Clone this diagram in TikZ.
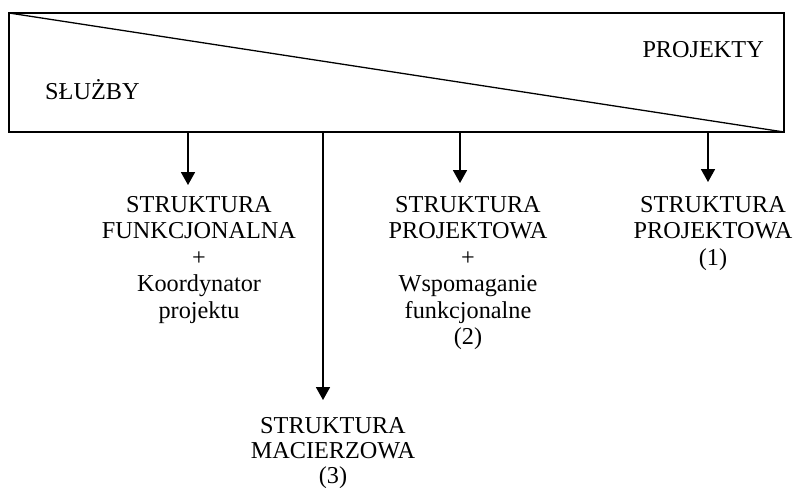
\documentclass[tikz,border=0pt]{standalone}
\usepackage{fontspec}
\setmainfont{Liberation Serif}
\usetikzlibrary{arrows.meta,positioning,calc}
\tikzset{
    ramka/.style={
        rectangle,
        draw,
        line width=1.1pt,
        inner sep=0pt,
        outer sep=0pt,
        anchor=north west
    },
    tekst/.style={inner sep=0pt, font=\fontsize{20.7}{22.6}\selectfont},
    etykieta/.style={tekst, align=center, anchor=north},
    strzalka/.style={-{Triangle[length=11pt,width=12pt]}, line width=1.1pt}
}

\begin{document}
\begin{tikzpicture}[x=0.03cm, y=-0.03cm]
    \useasboundingbox (0,0) rectangle (793,488);
    % prostokat z przekatna
    \node[ramka, minimum width=23.25cm, minimum height=3.57cm] (box) at (9,13) {};
    \draw[line width=1.1pt] (box.north west) -- (box.south east);
    \node[tekst, anchor=base west] (sluzby) at (45,100) {SŁUŻBY};
    \node[tekst, anchor=base east] (projekty) at (764,58) {PROJEKTY};
    % konce strzalek
    \coordinate (t1) at (188,185);
    \coordinate (t2) at (323,400);
    \coordinate (t3) at (460,183);
    \coordinate (t4) at (708,182);
    % struktury
    \node[etykieta] (funkc) at (199,196)
        {STRUKTURA\\FUNKCJONALNA\\+\\Koordynator\\projektu};
    \node[etykieta, font=\fontsize{20.7}{21.5}\selectfont] (macierz) at (333,417)
        {STRUKTURA\\MACIERZOWA\\(3)};
    \node[etykieta] (projwsp) at (468,196)
        {STRUKTURA\\PROJEKTOWA\\+\\Wspomaganie\\funkcjonalne\\(2)};
    \node[etykieta] (proj) at (713,196)
        {STRUKTURA\\PROJEKTOWA\\(1)};
    \draw[strzalka] (box.south -| t1) -- (t1);
    \draw[strzalka] (box.south -| t2) -- (t2);
    \draw[strzalka] (box.south -| t3) -- (t3);
    \draw[strzalka] (box.south -| t4) -- (t4);
\end{tikzpicture}
\end{document}
